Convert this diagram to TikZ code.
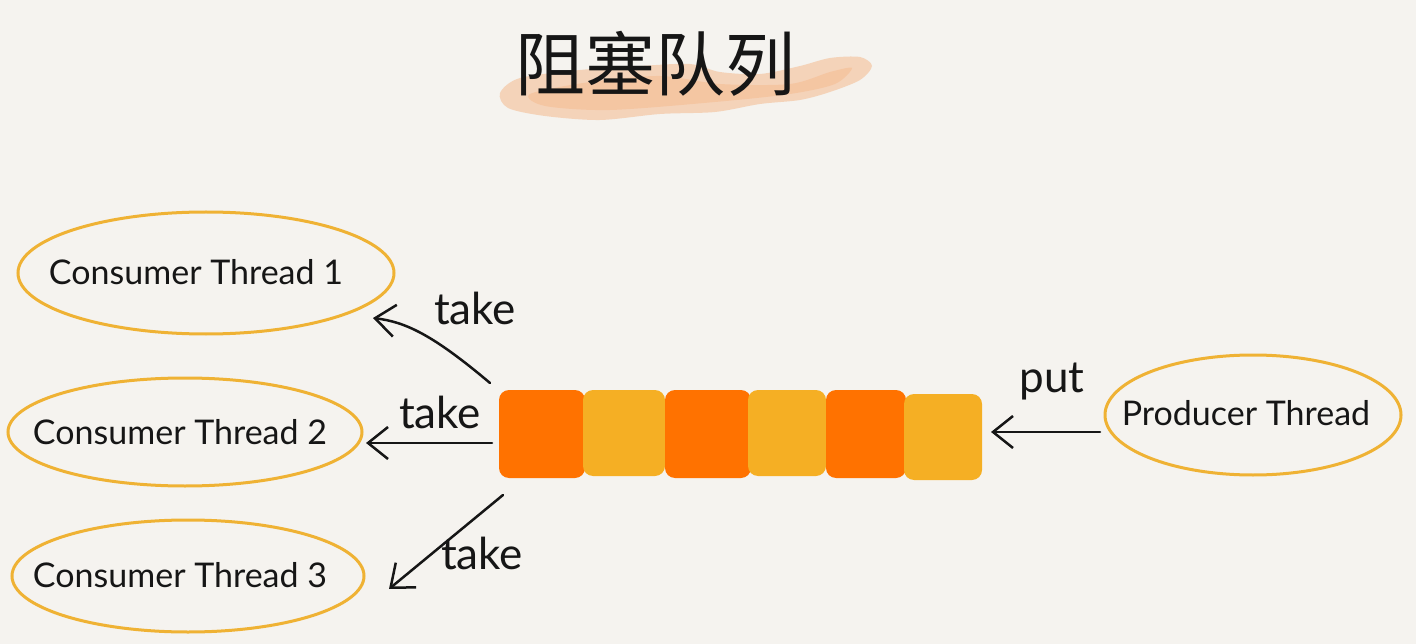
\documentclass[tikz,border=0pt]{standalone}
\usepackage{fontspec}
\setmainfont{Lato}
\newfontfamily\cjk{Noto Sans CJK SC}
\usetikzlibrary{shapes.geometric,arrows.meta}
\definecolor{bg}{HTML}{F5F3EF}
\definecolor{ring}{HTML}{EFB234}
\definecolor{qorange}{HTML}{FF7200}
\definecolor{qyellow}{HTML}{F5AF24}
\definecolor{brushc}{HTML}{F4A870}
\definecolor{ink}{HTML}{161616}
\tikzset{
  thread/.style={ellipse, draw=ring, line width=3pt, inner sep=0pt},
  threadtext/.style={text=ink, inner sep=0pt, font=\fontsize{34}{34}\selectfont},
  cellA/.style={fill=qorange, rounded corners=10pt, minimum height=88pt, inner sep=0pt},
  cellB/.style={fill=qyellow, rounded corners=10pt, minimum height=86pt, inner sep=0pt},
  arr/.style={draw=ink, line width=2.5pt, line cap=round,
    -{Straight Barb[length=20pt,width=32pt,line width=2.5pt]}},
  lbl/.style={text=ink, font=\fontsize{44}{44}\selectfont, inner sep=0pt},
  brush/.style={fill=brushc}
}
\begin{document}
\begin{tikzpicture}[x=1pt,y=-1pt]
\useasboundingbox (0,0) rectangle (1416,644);
\fill[bg] (0,0) rectangle (1416,644);
% brush stroke behind title
\fill[brush, opacity=0.42] plot[smooth cycle, tension=0.5] coordinates {
  (500,93) (520,78) (580,70) (640,66) (690,64) (720,72) (760,74) (800,66) (830,58)
  (860,57) (872,66) (860,80) (830,92) (800,100) (760,104) (715,112) (660,114)
  (600,120) (545,116) (508,108)};
\fill[brush, opacity=0.3] plot[smooth cycle, tension=0.5] coordinates {
  (530,94) (590,82) (660,76) (720,84) (790,84) (830,72) (852,68)
  (835,84) (790,94) (715,102) (610,110) (545,106)};
\node[text=ink, font=\cjk\fontsize{70}{70}\selectfont, inner sep=0pt] (title) at (655,64) {阻塞队列};
% threads
\node[thread, minimum width=376pt, minimum height=122pt] (c1) at (206,273) {};
\node[thread, minimum width=354pt, minimum height=108pt] (c2) at (185,432) {};
\node[thread, minimum width=352pt, minimum height=112pt] (c3) at (188,576) {};
\node[thread, minimum width=296pt, minimum height=120pt] (p) at (1253,415) {};
\node[threadtext] (c1t) at (196,272) {Consumer Thread 1};
\node[threadtext] (c2t) at (180,432) {Consumer Thread 2};
\node[threadtext] (c3t) at (180,575) {Consumer Thread 3};
\node[threadtext] (pt) at (1246,413) {Producer Thread};
% queue
\node[cellA, minimum width=86pt] (q1) at (542,434) {};
\node[cellB, minimum width=82pt] (q2) at (624,433) {};
\node[cellA, minimum width=86pt] (q3) at (708,434) {};
\node[cellB, minimum width=78pt] (q4) at (787,433) {};
\node[cellA, minimum width=80pt] (q5) at (866,434) {};
\node[cellB, minimum width=78pt] (q6) at (943,437) {};
% arrow ends
\coordinate (t1s) at (490,383);
\coordinate (t1e) at (373,318);
\coordinate (t2s) at (492,443);
\coordinate (t2e) at (366,443);
\coordinate (t3s) at (503,495);
\coordinate (t3e) at (389,589);
\coordinate (ps) at (1100,432);
\coordinate (pe) at (991,432);
\draw[arr] (t1s) .. controls (432,334) and (405,322) .. (t1e);
\draw[arr] (t2s) -- (t2e);
\draw[arr] (t3s) -- (t3e);
\draw[arr] (ps) -- (pe);
% labels
\node[lbl] (l1) at (475,308) {take};
\node[lbl] (l2) at (440,412) {take};
\node[lbl] (l3) at (482,553) {take};
\node[lbl] (l4) at (1052,382) {put};
\end{tikzpicture}
\end{document}
